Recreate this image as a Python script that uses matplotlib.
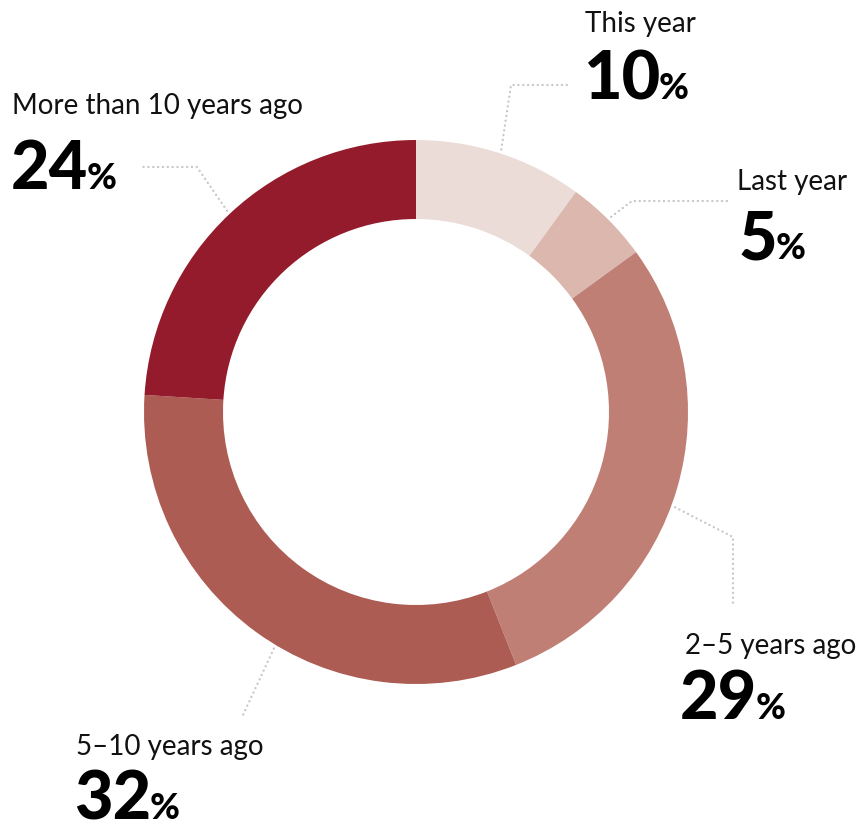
import numpy as np
import matplotlib
matplotlib.use("Agg")
import matplotlib.pyplot as plt

# Share of respondents by when it last happened
categories = ["This year", "Last year", "2–5 years ago", "5–10 years ago", "More than 10 years ago"]
values = [10, 5, 29, 32, 24]
colors = ["#EBDCD8", "#DBB7AE", "#C07F75", "#AD5C53", "#941B2B"]

W, H = 863, 825
CX, CY = 416, 412          # ring centre (pixels from top-left)
R_OUT, RING = 272, 79      # outer radius, ring thickness

# label anchor (left x, baseline of category text, baseline of percentage)
label_pos = {
    "This year": (585, 32, 99),
    "Last year": (737, 190, 259),
    "2–5 years ago": (685, 654, 719),
    "5–10 years ago": (76, 755, 819),
    "More than 10 years ago": (12, 114, 189),
}
# x shift of the big number relative to the category text
num_dx = {
    "This year": -2,
    "Last year": 2,
    "2–5 years ago": -5,
    "5–10 years ago": -2,
    "More than 10 years ago": -1,
}
# connector: angle nudge (deg) from wedge middle, then bend points
connector_nudge = {
    "This year": 0,
    "Last year": 0,
    "2–5 years ago": -4,
    "5–10 years ago": 5,
    "More than 10 years ago": 0,
}
connector_path = {
    "This year": [(511, 85), (568, 85)],
    "Last year": [(632, 201), (728, 201)],
    "2–5 years ago": [(733, 537), (733, 604)],
    "5–10 years ago": [(243, 715)],
    "More than 10 years ago": [(197, 167), (143, 167)],
}

fig = plt.figure(figsize=(W / 100, H / 100), dpi=100)
ax = fig.add_axes([0, 0, 1, 1])


def Y(y):
    return H - y


wedges, _ = ax.pie(values, colors=colors, startangle=90, counterclock=False,
                   center=(CX, Y(CY)), radius=R_OUT,
                   wedgeprops=dict(width=RING, linewidth=0))
ax.set_xlim(0, W)
ax.set_ylim(0, H)
ax.axis("off")

renderer = fig.canvas.get_renderer()
label_font = ["Lato", "DejaVu Sans"]
num_font = ["Lato", "DejaVu Sans"]

for w, cat, v in zip(wedges, categories, values):
    mid = np.deg2rad((w.theta1 + w.theta2) / 2 + connector_nudge[cat])
    sx = CX + (R_OUT + 4) * np.cos(mid)
    sy = CY - (R_OUT + 4) * np.sin(mid)
    pts = [(sx, sy)] + connector_path[cat]
    xs = [p[0] for p in pts]
    ys = [Y(p[1]) for p in pts]
    ax.plot(xs, ys, color="#C8C8C8", lw=1.7, linestyle=(0, (0.05, 2.0)),
            dash_capstyle="round", solid_capstyle="round")

    lx, by1, by2 = label_pos[cat]
    ax.text(lx, Y(by1), cat, fontsize=20, family=label_font, color="#111111",
            ha="left", va="baseline")
    t = ax.text(lx + num_dx[cat], Y(by2), f"{v}", fontsize=48, family=num_font,
                fontweight="black", color="#000000", ha="left", va="baseline")
    bb = t.get_window_extent(renderer)
    ax.text(bb.x1 - 2, Y(by2), "%", fontsize=26, family=num_font,
            fontweight="black", color="#000000", ha="left", va="baseline")

fig.savefig("out.png", dpi=100)
